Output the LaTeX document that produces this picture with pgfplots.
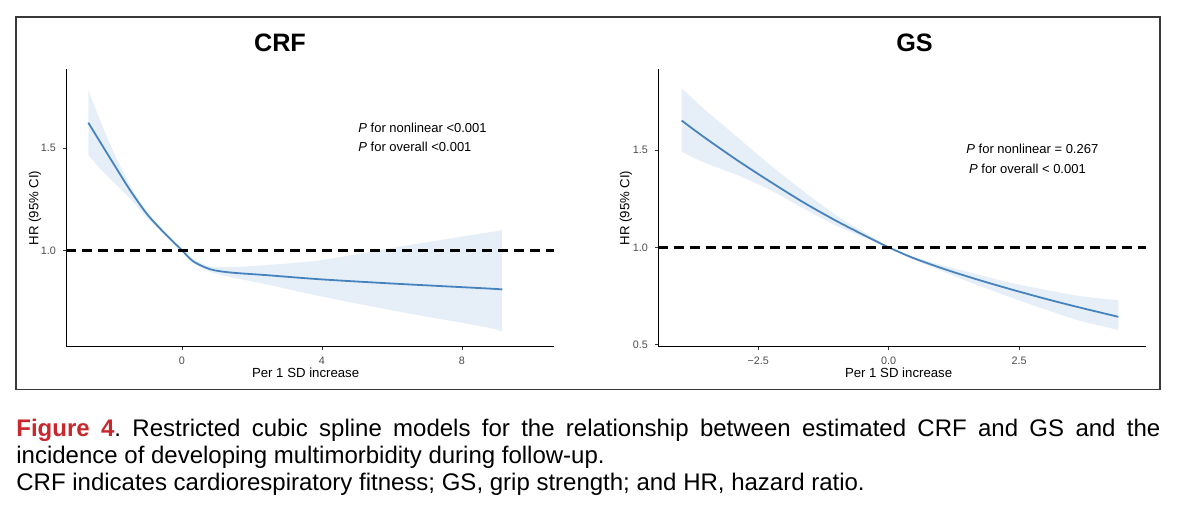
\documentclass[border=0pt]{standalone}
\usepackage{pgfplots}
\pgfplotsset{compat=1.18}
\usepackage{pgfplotstable}
\usepgfplotslibrary{fillbetween}
\usepackage{fontspec}
\setmainfont{Liberation Sans}

\definecolor{curve}{RGB}{70,130,190}
\definecolor{band}{RGB}{230,239,248}
\definecolor{figred}{RGB}{200,40,45}

% CRF spline: x, HR, lower CI, upper CI
\pgfplotstableread{
x      hr     lo     up
-2.677 1.624  1.466  1.783
-2.343 1.531  1.400  1.637
-1.962 1.425  1.335  1.482
-1.486 1.295  1.254  1.319
-1.010 1.180  1.160  1.190
-0.533 1.090  1.082  1.100
0      1.000  0.992  1.008
0.324  0.946  0.936  0.956
0.80   0.908  0.895  0.922
1.37   0.892  0.870  0.918
2.40   0.879  0.834  0.928
4.00   0.858  0.774  0.953
6.21   0.836  0.700  1.018
8.69   0.814  0.624  1.086
9.15   0.809  0.602  1.099
}\crf

% GS spline
\pgfplotstableread{
x      hr     lo     up
-3.966 1.653  1.493  1.820
-3.55  1.570  1.438  1.716
-2.91  1.450  1.373  1.570
-2.27  1.338  1.295  1.424
-1.636 1.232  1.201  1.290
-0.996 1.135  1.110  1.163
-0.358 1.047  1.038  1.060
0      1.000  0.997  1.003
0.47   0.945  0.939  0.952
1.11   0.884  0.867  0.902
1.75   0.830  0.800  0.857
2.39   0.780  0.737  0.814
3.03   0.733  0.677  0.780
3.66   0.690  0.622  0.749
4.40   0.642  0.574  0.728
}\gs

\pgfplotsset{rcs/.style={
  scale only axis, width=244pt, height=138.7pt,
  anchor=south west, clip mode=individual,
  axis x line*=bottom, axis y line*=left,
  axis line style={-, draw=black, line width=0.5pt},
  tick align=outside, major tick length=1.5pt,
  tick style={draw=black!80, line width=0.4pt},
  ticklabel style={font=\fontsize{5.4}{6}\selectfont, text=black!70},
  label style={font=\fontsize{6.6}{8}\selectfont},
  xlabel={Per 1 SD increase}, ylabel={HR (95\% CI)},
}}
\pgfplotsset{spl/.style={smooth, tension=0.5, no markers}}

\begin{document}
\begin{tikzpicture}
\draw[line width=0.9pt, draw=black!78] (8pt,-8.65pt) rectangle (580pt,-194.75pt);

\begin{axis}[rcs, at={(33pt,-173.35pt)},
  xmin=-3.314, xmax=10.629, ymin=0.529, ymax=1.885,
  xtick={0,4,8}, xticklabels={0,4,8},
  ytick={1,1.5}, yticklabels={1.0,1.5},
  xlabel style={at={(axis description cs:0.491,-0.0923)}, anchor=center},
  ylabel style={at={(axis description cs:-0.0635,0.5)}, anchor=center}]
\addplot[spl, draw=none, name path=up] table[x=x, y=up] {\crf};
\addplot[spl, draw=none, name path=lo] table[x=x, y=lo] {\crf};
\addplot[fill=band, draw=none] fill between[of=up and lo];
\addplot[spl, curve, line width=0.9pt] table[x=x, y=hr] {\crf};
\addplot[black, line width=1.4pt, dash pattern=on 5pt off 3pt] coordinates {(-3.314,1) (10.629,1)};
\node[font=\fontsize{12.6}{14}\selectfont\bfseries] at (axis description cs:0.4385,1.097) {CRF};
\end{axis}

\begin{axis}[rcs, at={(329pt,-173.35pt)},
  xmin=-4.42, xmax=4.93, ymin=0.488, ymax=1.917,
  xtick={-2.5,0,2.5}, xticklabels={−2.5,0.0,2.5},
  ytick={0.5,1,1.5}, yticklabels={0.5,1.0,1.5},
  xlabel style={at={(axis description cs:0.493,-0.0923)}, anchor=center},
  ylabel style={at={(axis description cs:-0.0656,0.5)}, anchor=center}]
\addplot[spl, draw=none, name path=up] table[x=x, y=up] {\gs};
\addplot[spl, draw=none, name path=lo] table[x=x, y=lo] {\gs};
\addplot[fill=band, draw=none] fill between[of=up and lo];
\addplot[spl, curve, line width=0.9pt] table[x=x, y=hr] {\gs};
\addplot[black, line width=1.4pt, dash pattern=on 5pt off 3pt] coordinates {(-4.42,1) (4.93,1)};
\node[font=\fontsize{12.6}{14}\selectfont\bfseries] at (axis description cs:0.5256,1.097) {GS};
\end{axis}

\begin{scope}[every node/.style={anchor=west, inner sep=0pt, font=\fontsize{6.5}{8}\selectfont}]
\node at (179pt,-64.15pt) {\textit{P} for nonlinear <0.001};
\node at (179pt,-73.65pt) {\textit{P} for overall <0.001};
\node at (483pt,-74.65pt) {\textit{P} for nonlinear = 0.267};
\node at (484.35pt,-84.35pt) {\textit{P} for overall < 0.001};
\end{scope}

\node[anchor=base west, inner sep=0pt] at (8pt,-218.35pt) {\parbox[t]{572pt}{\fontsize{12}{13.5}\selectfont\frenchspacing
\textcolor{figred}{\textbf{Figure 4}}. Restricted cubic spline models for the relationship between estimated CRF and GS and the\linebreak
incidence of developing multimorbidity during follow-up.\\
CRF indicates cardiorespiratory fitness; GS, grip strength; and HR, hazard ratio.}};

\pgfresetboundingbox
\path[use as bounding box] (0,0) rectangle (600pt,-258pt);
\end{tikzpicture}
\end{document}
